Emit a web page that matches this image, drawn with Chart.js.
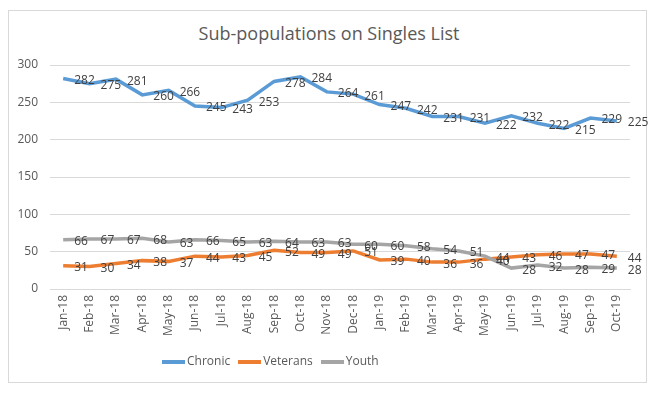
<!DOCTYPE html>
<html>
<head>
<meta charset="utf-8">
<script src="https://cdn.jsdelivr.net/npm/chart.js@4"></script>
<style>
  html, body { margin: 0; padding: 0; background: #fff; }
  #wrap { position: relative; width: 658px; height: 394px; }
  #frame { position: absolute; left: 8px; top: 10px; width: 637px; height: 371px; border: 1px solid #d9d9d9; }
  #title { position: absolute; left: 0; width: 658px; top: 21px; text-align: center;
           font: 18px 'Open Sans', sans-serif; color: #595959; }
  #legend { position: absolute; top: 352px; left: 162px; font: 12px 'Open Sans', sans-serif; color: #595959; white-space: nowrap; }
  #legend span.item { display: inline-block; margin-right: 8px; }
  #legend span.sw { display: inline-block; width: 23px; height: 4px; vertical-align: middle; margin-right: 2px; }
  canvas { position: absolute; left: 0; top: 0; }
</style>
</head>
<body>
<div id="wrap">
  <div id="frame"></div>
  <div id="title">Sub-populations on Singles List</div>
  <canvas id="chart" width="658" height="394"></canvas>
  <div id="legend"></div>
</div>
<script>
// categories and series
const months = ['Jan-18', 'Feb-18', 'Mar-18', 'Apr-18', 'May-18', 'Jun-18', 'Jul-18', 'Aug-18',
    'Sep-18', 'Oct-18', 'Nov-18', 'Dec-18', 'Jan-19', 'Feb-19', 'Mar-19', 'Apr-19',
    'May-19', 'Jun-19', 'Jul-19', 'Aug-19', 'Sep-19', 'Oct-19'];
const chronic  = [282, 275, 281, 260, 266, 245, 243, 253, 278, 284, 264, 261, 247, 242, 231, 231, 222, 232, 222, 215, 229, 225];
const veterans = [31, 30, 34, 38, 37, 44, 43, 45, 52, 49, 49, 51, 39, 40, 36, 36, 40, 43, 46, 47, 47, 44];
const youth    = [66, 67, 67, 68, 63, 66, 65, 63, 64, 63, 63, 60, 60, 58, 54, 51, 44, 28, 32, 28, 29, 28];
const yTicks = [0, 50, 100, 150, 200, 250, 300];

const seriesNames = ['Chronic', 'Veterans', 'Youth'];
const seriesColors = ['#5b9bd5', '#ed7d31', '#a5a5a5'];

// valeurs affichées à droite de chaque point (comme Excel)
const pointLabels = {
    id: 'pointLabels',
    afterDatasetsDraw(chart) {
        const { ctx } = chart;
        ctx.save();
        ctx.fillStyle = '#404040';
        ctx.font = '12px "Open Sans", sans-serif';
        ctx.textAlign = 'left';
        ctx.textBaseline = 'middle';
        chart.data.datasets.forEach((ds, i) => {
            chart.getDatasetMeta(i).data.forEach((pt, j) => {
                ctx.fillText(ds.data[j], pt.x + 11, pt.y + 2);
            });
        });
        ctx.restore();
    }
};

const ctx = document.getElementById('chart').getContext('2d');
new Chart(ctx, {
    type: 'line',
    data: {
        labels: months,
        datasets: [chronic, veterans, youth].map((d, i) => ({
            label: seriesNames[i],
            data: d,
            borderColor: seriesColors[i],
            backgroundColor: seriesColors[i],
            borderWidth: 3.5,
            pointRadius: 0,
            tension: 0,
            order: 3 - i
        }))
    },
    plugins: [pointLabels],
    options: {
        responsive: false,
        animation: false,
        layout: { padding: { top: 65, right: 28, left: 0, bottom: 0 } },
        plugins: {
            legend: { display: false },
            title: { display: false },
            tooltip: { enabled: false }
        },
        scales: {
            x: {
                offset: true,
                grid: { display: false, drawTicks: false },
                border: { display: true, color: '#d9d9d9' },
                ticks: {
                    minRotation: 90, maxRotation: 90, padding: 6,
                    autoSkip: false,
                    color: '#595959',
                    font: { family: "'Open Sans', sans-serif", size: 12 }
                },
                afterFit(scale) { scale.height = 105; }
            },
            y: {
                min: 0, max: 300,
                afterBuildTicks(scale) { scale.ticks = yTicks.map(v => ({ value: v })); },
                grid: { color: '#d9d9d9', drawTicks: false },
                border: { display: false },
                ticks: {
                    padding: 12,
                    color: '#595959',
                    font: { family: "'Open Sans', sans-serif", size: 12 }
                },
                afterFit(scale) { scale.width = 50; }
            }
        }
    }
});

// legend as html
const legend = document.getElementById('legend');
seriesNames.forEach((n, i) => {
    const item = document.createElement('span');
    item.className = 'item';
    const sw = document.createElement('span');
    sw.className = 'sw';
    sw.style.background = seriesColors[i];
    item.appendChild(sw);
    item.appendChild(document.createTextNode(n));
    legend.appendChild(item);
});
</script>
</body>
</html>
